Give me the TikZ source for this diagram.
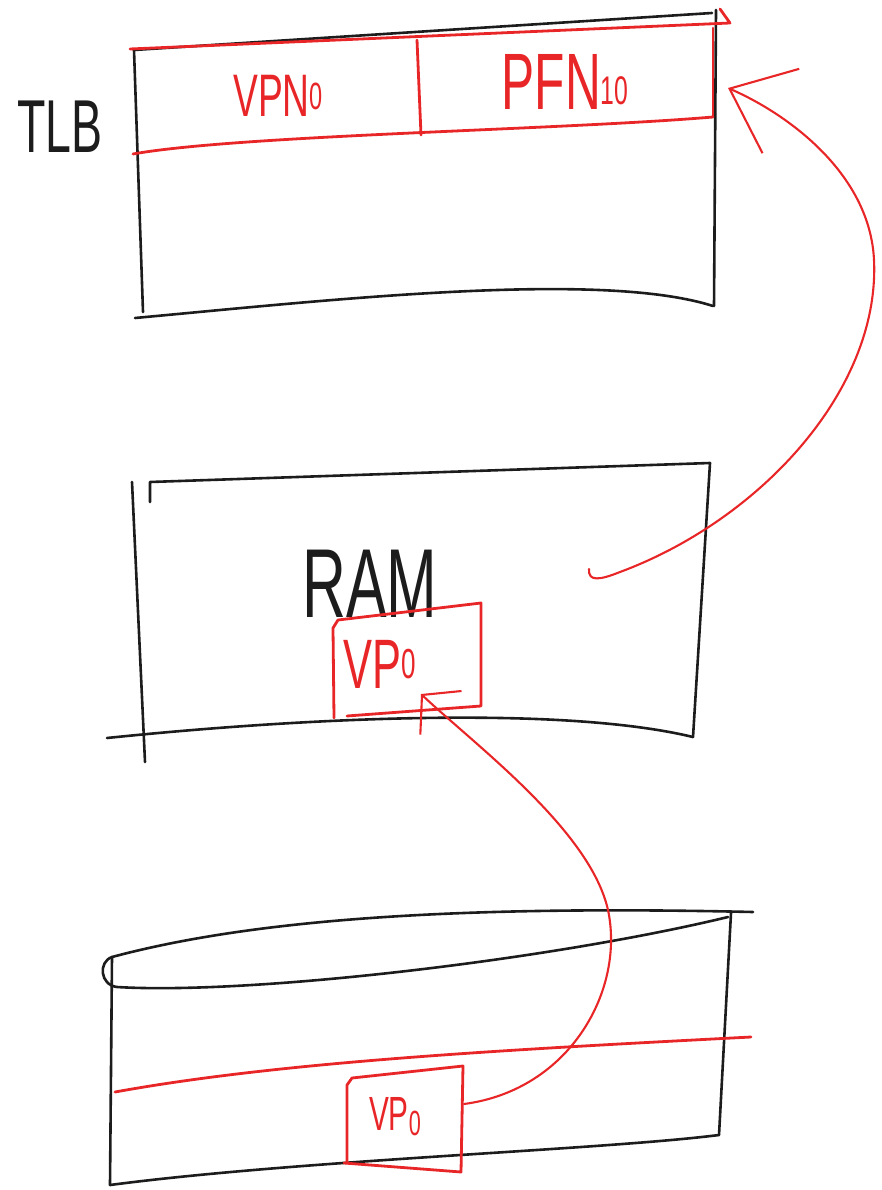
\documentclass[tikz,border=0pt]{standalone}
\usepackage{fontspec}
\setmainfont{Liberation Sans}[FakeStretch=0.62]
\usetikzlibrary{arrows.meta}
\definecolor{penRed}{RGB}{232,38,40}
\definecolor{penBlack}{RGB}{28,28,28}
\newcommand{\fsz}[1]{\fontsize{#1}{#1}\selectfont}

\begin{document}
\begin{tikzpicture}[x=1pt, y=-1pt,
  blk/.style={draw=penBlack, line width=2.6pt, line cap=round, line join=round},
  redpen/.style={draw=penRed, line width=2.8pt, line cap=round, line join=round},
  redcurve/.style={draw=penRed, line width=2.1pt, line cap=round},
  txtblk/.style={inner sep=0pt, anchor=base, text=penBlack},
  txtred/.style={inner sep=0pt, anchor=base, text=penRed}]
  \useasboundingbox (0,0) rectangle (881,1190);

  % TLB
  \draw[blk] (134,50) -- (143,312);
  \draw[blk] (134,50) -- (712,13);
  \draw[blk] (716,10) -- (714,306);
  \draw[blk] (135,318) .. controls (330,300) and (600,270) .. (713,306);
  \draw[redpen] (130,49) -- (730,23) -- (720,9);
  \draw[redpen] (713,28) -- (713,117);
  \draw[redpen] (133,154) .. controls (240,135) and (560,130) .. (713,117);
  \draw[redpen] (417,40) -- (421,135);
  \node[txtblk, font=\fsz{75}] (tlbtitle) at (60,153) {TLB};
  \node[txtred, font=\fsz{60}] (vpncell) at (278,117) {VPN{\fsz{38}\raisebox{7pt}{0}}};
  \node[txtred, font=\fsz{80}] (pfncell) at (565,110) {PFN{\fsz{40}\raisebox{5pt}{10}}};

  % RAM
  \draw[blk] (132,482) -- (145,762);
  \draw[blk] (150,502) -- (150,482) -- (710,463) -- (693,737);
  \draw[blk] (107,738) .. controls (300,718) and (560,705) .. (693,737);
  \node[txtblk, font=\fsz{98}] (ramtitle) at (370,617) {RAM};
  \draw[redpen] (347,716) -- (481,706) -- (481,603) -- (338,620) -- (333,628) -- (334,718);
  \node[txtred, font=\fsz{70}] (ramvp) at (380,688) {VP{\fsz{42}\raisebox{10pt}{0}}};

  % disk
  \draw[blk] (753,912) .. controls (450,905) and (250,920) .. (112,957)
    .. controls (98,962) and (100,985) .. (117,987)
    .. controls (250,995) and (550,960) .. (728,917);
  \draw[blk] (112,957) -- (110,1185);
  \draw[blk] (731,913) -- (719,1135);
  \draw[blk] (110,1185) .. controls (300,1160) and (600,1150) .. (719,1135);
  \draw[redpen] (115,1092) .. controls (280,1062) and (500,1050) .. (751,1037);
  \draw[redpen] (347,1163) -- (347,1085) -- (352,1078) -- (463,1066) -- (461,1172) -- (344,1163);
  \node[txtred, font=\fsz{48}] (diskvp) at (395,1130) {VP{\fsz{35}\raisebox{-5pt}{0}}};

  % connectors
  \coordinate (diskout) at (464,1104);
  \coordinate (ramin) at (421,694);
  \coordinate (ramout) at (589,569);
  \coordinate (tlbin) at (728,88);
  \draw[redcurve, -{Straight Barb[length=26pt,width=60pt]}] (diskout)
    .. controls (570,1090) and (625,990) .. (608,910)
    .. controls (590,830) and (475,745) .. (ramin);
  \draw[redcurve, -{Straight Barb[length=56pt,width=92pt]}] (ramout)
    .. controls (588,582) and (600,580) .. (620,572)
    .. controls (760,520) and (880,390) .. (874,260)
    .. controls (870,175) and (790,115) .. (tlbin);
\end{tikzpicture}
\end{document}
